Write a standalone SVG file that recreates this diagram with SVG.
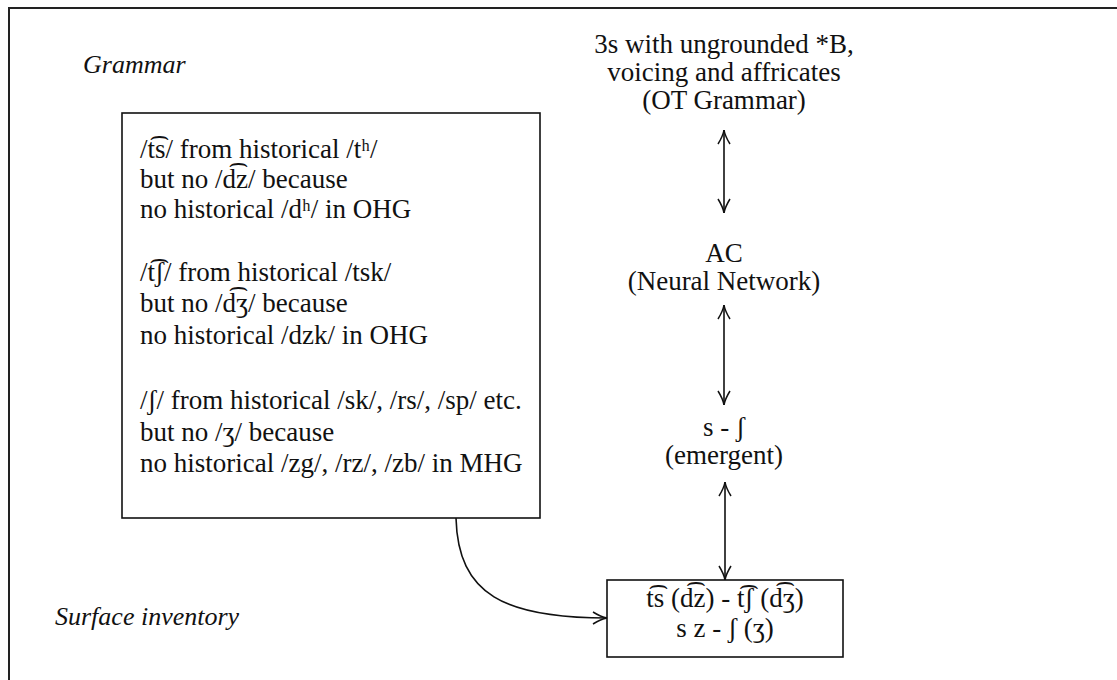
<svg xmlns="http://www.w3.org/2000/svg" width="1117" height="680" viewBox="0 0 1117 680">
<style>
text{font-family:"Liberation Serif","DejaVu Serif",serif;font-size:27px;fill:#111}
.it{font-style:italic;font-size:26px}
.c{text-anchor:middle}
.box{fill:none;stroke:#111;stroke-width:1.6}
.ln{fill:none;stroke:#111;stroke-width:1.6}
</style>
<defs>
<marker id="ah" viewBox="0 0 16 14" refX="15" refY="7" markerWidth="16" markerHeight="14" markerUnits="userSpaceOnUse" orient="auto-start-reverse">
<path d="M1,1 Q9,6 15,7 Q9,8 1,13" fill="none" stroke="#111" stroke-width="1.5"/>
</marker>
</defs>
<rect x="9" y="8" width="1130" height="700" fill="#fff" stroke="#222" stroke-width="2"/>
<g id="label-grammar"><text class="it" x="83" y="73">Grammar</text></g>
<g id="label-surface"><text class="it" x="55" y="625">Surface inventory</text></g>
<g id="grammar-box">
<rect class="box" x="122" y="113" width="418" height="405"/>
<text x="140" y="158">/t͡s/ from historical /tʰ/</text>
<text x="140" y="188">but no /d͡z/ because</text>
<text x="140" y="218">no historical /dʰ/ in OHG</text>
<text x="140" y="281">/t͡ʃ/ from historical /tsk/</text>
<text x="140" y="312">but no /d͡ʒ/ because</text>
<text x="140" y="344">no historical /dzk/ in OHG</text>
<text x="140" y="409">/ʃ/ from historical /sk/, /rs/, /sp/ etc.</text>
<text x="140" y="441">but no /ʒ/ because</text>
<text x="140" y="472">no historical /zg/, /rz/, /zb/ in MHG</text>
</g>
<g id="ot-grammar">
<text class="c" x="724" y="53">3s with ungrounded *B,</text>
<text class="c" x="724" y="81">voicing and affricates</text>
<text class="c" x="724" y="109">(OT Grammar)</text>
</g>
<g id="ac">
<text class="c" x="724" y="262">AC</text>
<text class="c" x="724" y="290">(Neural Network)</text>
</g>
<g id="emergent">
<text class="c" x="724" y="436">s - ʃ</text>
<text class="c" x="724" y="464">(emergent)</text>
</g>
<g id="inventory-box">
<rect class="box" x="607" y="580" width="236" height="77"/>
<text class="c" x="725" y="607">t͡s (d͡z) - t͡ʃ (d͡ʒ)</text>
<text class="c" x="725" y="637">s z - ʃ (ʒ)</text>
</g>
<g id="connectors">
<line class="ln" x1="724" y1="130" x2="724" y2="213" marker-start="url(#ah)" marker-end="url(#ah)"/>
<line class="ln" x1="724" y1="305" x2="724" y2="405" marker-start="url(#ah)" marker-end="url(#ah)"/>
<line class="ln" x1="725" y1="482" x2="725" y2="580" marker-start="url(#ah)" marker-end="url(#ah)"/>
<path class="ln" d="M456,518 C458,595 505,618 607,618" marker-end="url(#ah)"/>
</g>
</svg>
